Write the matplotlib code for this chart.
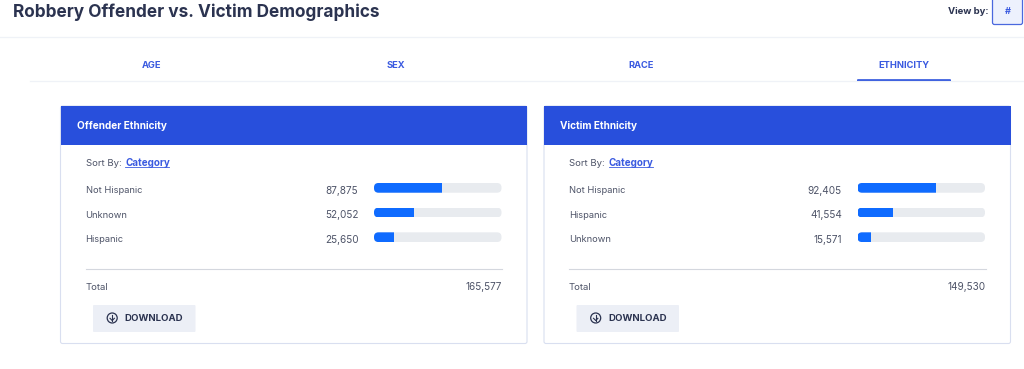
import matplotlib
matplotlib.use("Agg")
import matplotlib.pyplot as plt
from matplotlib.patches import FancyBboxPatch, Rectangle, Circle

plt.rcParams['font.family'] = ['Inter', 'Liberation Sans', 'DejaVu Sans']

W, H = 1024, 369
PAGE_TITLE = "Robbery Offender vs. Victim Demographics"
TABS = ["AGE", "SEX", "RACE", "ETHNICITY"]
offender_categories = ["Not Hispanic", "Unknown", "Hispanic"]
offender_values = [87875, 52052, 25650]
offender_total = 165577
victim_categories = ["Not Hispanic", "Hispanic", "Unknown"]
victim_values = [92405, 41554, 15571]
victim_total = 149530

BLUE = "#284FDC"
BAR = "#0F6BFF"
TRACK = "#E8EBEF"
DARK = "#2B3350"
GREY = "#4E5468"
LINK = "#3A5AE0"

fig = plt.figure(figsize=(W / 100, H / 100), dpi=100, facecolor="white")
ui = fig.add_axes([0, 0, 1, 1])
ui.set_xlim(0, W)
ui.set_ylim(H, 0)
ui.axis("off")


def label(x, y, s, size=6.7, color=GREY, weight="normal", ha="left"):
    return ui.text(x, y, s, fontsize=size, color=color, fontweight=weight,
                   ha=ha, va="center")


# page header
label(13, 12, PAGE_TITLE, size=12.4, color=DARK, weight="bold")
label(988, 11, "View by:", size=6.9, color=DARK, weight="bold", ha="right")
ui.add_patch(FancyBboxPatch((992.5, -3), 30, 27.5, boxstyle="round,pad=0,rounding_size=2",
                            fc="#EDF1FD", ec="#4A68DE", lw=0.9))
label(1007.5, 12, "#", size=6.6, color=LINK, weight="bold", ha="center")
ui.plot([0, W], [36.5, 36.5], color="#EFF2F7", lw=0.9)

# tabs
ui.plot([30, W], [80.5, 80.5], color="#EFF2F7", lw=0.9)
for x, t in zip([151.5, 395.5, 641.5, 904], TABS):
    label(x, 65, t, size=6.7, color=LINK, weight="bold", ha="center")
ui.add_patch(FancyBboxPatch((857, 79.2), 94, 2.8, boxstyle="round,pad=0,rounding_size=1",
                            fc=BLUE, ec="none"))


def panel(x0, title, cats, vals, total):
    x1 = x0 + 466.5
    ui.add_patch(FancyBboxPatch((x0, 106), 466.5, 237.5, boxstyle="round,pad=0,rounding_size=2",
                                fc="white", ec="#D9DFF0", lw=0.8))
    ui.add_patch(Rectangle((x0, 106), 466.5, 38.5, fc=BLUE, ec="none"))
    label(x0 + 16.5, 126, title, size=7.2, color="white", weight="bold")
    label(x0 + 25, 163, "Sort By:", size=6.9)
    label(x0 + 64.5, 163, "Category", size=7.1, color=LINK, weight="bold")
    ui.plot([x0 + 64.5, x0 + 108.5], [167.3, 167.3], color=LINK, lw=0.6)

    left, right = x0 + 313.5, x0 + 441
    ax = fig.add_axes([left / W, 1 - 249.5 / H, (right - left) / W, 74 / H])
    ax.set_xlim(0, total)
    ax.set_ylim(2.5, -0.5)
    ax.axis("off")
    ys = list(range(len(cats)))
    track = ax.barh(ys, [total] * len(ys), height=0.39, color=TRACK)
    bars = ax.barh(ys, vals, height=0.39, color=BAR)
    for i, (cat, val) in enumerate(zip(cats, vals)):
        cy = 190.5 + i * 24.67
        label(x0 + 25, cy, cat)
        label(x0 + 298, cy, f"{val:,}", size=7.2, ha="right")
        clip = FancyBboxPatch((left, 183 + i * 24.67), right - left, 9.7,
                              boxstyle="round,pad=0,rounding_size=4.5",
                              transform=ui.transData, fc="none", ec="none")
        ui.add_patch(clip)
        track[i].set_clip_path(clip)
        bars[i].set_clip_path(clip)

    ui.plot([x0 + 25, x1 - 25], [268.5, 268.5], color="#D4D7DE", lw=0.8)
    label(x0 + 25, 287, "Total", size=6.9)
    label(x0 + 441.5, 287, f"{total:,}", size=7.2, ha="right")
    ui.add_patch(FancyBboxPatch((x0 + 32.5, 305), 102.5, 27, boxstyle="round,pad=0,rounding_size=1",
                                fc="#ECEFF6", ec="none"))
    cx, cy = x0 + 51.7, 318
    ui.add_patch(Circle((cx, cy), 5, fc="none", ec=DARK, lw=0.9))
    ui.plot([cx, cx], [cy - 2.7, cy + 2.5], color=DARK, lw=0.8)
    ui.plot([cx - 2.2, cx, cx + 2.2], [cy + 0.3, cy + 2.5, cy + 0.3], color=DARK, lw=0.8)
    label(x0 + 64, 318.5, "DOWNLOAD", size=6.9, color=DARK, weight="bold")


panel(60.5, "Offender Ethnicity", offender_categories, offender_values, offender_total)
panel(544, "Victim Ethnicity", victim_categories, victim_values, victim_total)

fig.savefig("out.png", dpi=100, facecolor="white")
